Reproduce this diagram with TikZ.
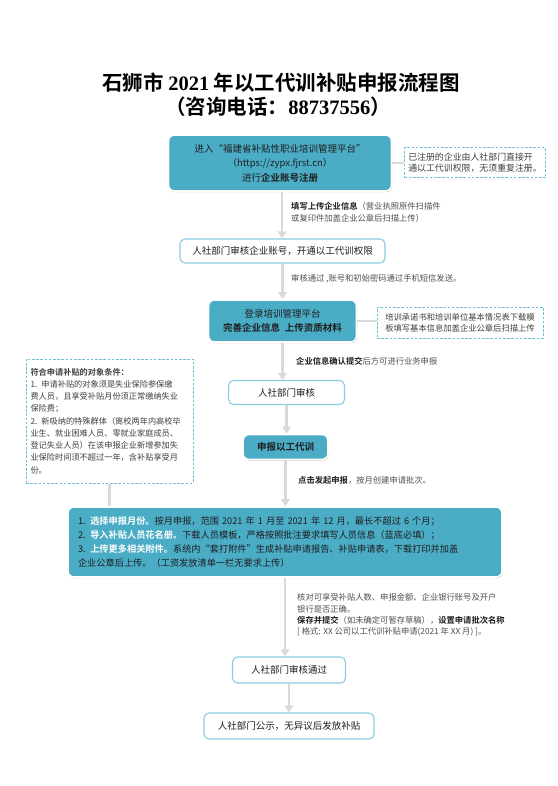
\documentclass[tikz,border=0pt]{standalone}
\usepackage{fontspec}
\setmainfont{Noto Sans CJK SC}[BoldFont={Noto Sans CJK SC Bold}]
\newfontfamily\tnr{Liberation Serif}
\usetikzlibrary{arrows.meta,shadows}
\definecolor{tealc}{HTML}{4BACC6}
\definecolor{bluel}{HTML}{8ACDE0}
\definecolor{blued}{HTML}{6CC0D6}
\definecolor{arrowgray}{HTML}{D9D9D9}
\definecolor{txt}{HTML}{1E1E1E}
\definecolor{lblc}{HTML}{505050}
\tikzset{
  tealbox/.style={rounded corners=6pt, fill=tealc, draw=white, line width=1.6pt,
    drop shadow={shadow xshift=0.7pt, shadow yshift=-1.1pt, opacity=0.45, fill=black!55},
    align=center, text=txt, inner sep=0pt, font=\fontsize{9.5}{14.5}\selectfont},
  whitebox/.style={rounded corners=5pt, fill=white, draw=bluel, line width=1.1pt,
    align=center, text=txt, inner sep=0pt, font=\fontsize{9.5}{14}\selectfont},
  notebox/.style={draw=blued, dash pattern=on 2.6pt off 1.6pt, line width=1pt, fill=white,
    align=left, text=txt!85, inner sep=0pt},
  flow/.style={draw=arrowgray, line width=2.6pt, -{Triangle[width=8.5pt,length=7pt]}},
  link/.style={draw=arrowgray, line width=2.2pt},
  lbl/.style={anchor=west, align=left, text=lblc, inner sep=0pt, font=\fontsize{8.3}{11.6}\selectfont},
  ttl/.style={font=\fontsize{20.5}{24}\selectfont\bfseries, text=black, inner sep=0pt}
}
\begin{document}
\begin{tikzpicture}[x=1pt,y=-1pt]
\useasboundingbox (0,0) rectangle (557,786);
\fill[white] (0,0) rectangle (557,786);

% title
\node[ttl] (t1) at (281,83) {石狮市 {\tnr\bfseries 2021} 年以工代训补贴申报流程图};
\node[ttl] (t2) at (278,107) {（咨询电话：{\tnr\bfseries 88737556}）};

% boxes
\node[tealbox, minimum width=223pt, minimum height=56pt] (b1) at (280,163)
  {进入“福建省补贴性职业培训管理平台”\\（https://zypx.fjrst.cn）\\进行\textbf{企业账号注册}};
\node[notebox, minimum width=141pt, minimum height=30pt, font=\fontsize{8.9}{11}\selectfont] (n1) at (475,163)
  {已注册的企业由人社部门直接开\\通以工代训权限，无须重复注册。};

\node[whitebox, minimum width=205pt, minimum height=24pt] (b2) at (282.5,251)
  {人社部门审核企业账号，开通以工代训权限};

\node[tealbox, minimum width=148pt, minimum height=42pt] (b3) at (282.5,321)
  {登录培训管理平台\\\textbf{完善企业信息\enspace 上传资质材料}};
\node[notebox, minimum width=166pt, minimum height=31pt, font=\fontsize{8.3}{11}\selectfont] (n2) at (460,322.5)
  {培训承诺书和培训单位基本情况表下载模\\板填写基本信息加盖企业公章后扫描上传};

\node[whitebox, minimum width=116pt, minimum height=24pt] (b4) at (286.5,392.5) {人社部门审核};

\node[tealbox, minimum width=85pt, minimum height=25pt] (b5) at (285.5,447) {\textbf{申报以工代训}};

\node[notebox, minimum width=167pt, minimum height=124pt, text width=158pt, inner xsep=4.5pt,
  font=\fontsize{8.2}{12.25}\selectfont] (n3) at (109.5,421)
  {\textbf{符合申请补贴的对象条件：}\\
   1. 申请补贴的对象须是失业保险参保缴\\
   费人员，且享受补贴月份须正常缴纳失业\\
   保险费；\\
   2. 新吸纳的特殊群体（离校两年内高校毕\\
   业生、就业困难人员、零就业家庭成员、\\
   登记失业人员）在该申报企业新增参加失\\
   业保险时间须不超过一年，含补贴享受月\\
   份。};

\node[tealbox, minimum width=434pt, minimum height=70pt, text width=414pt, inner xsep=10pt,
  align=left, font=\fontsize{9.2}{14}\selectfont] (b6) at (285,542)
  {1. {\color{white}\bfseries 选择申报月份。}按月申报，范围 2021 年 1 月至 2021 年 12 月，最长不超过 6 个月；\\
   2. {\color{white}\bfseries 导入补贴人员花名册。}下载人员模板，严格按照批注要求填写人员信息（蓝底必填）；\\
   3. {\color{white}\bfseries 上传更多相关附件。}系统内“套打附件”生成补贴申请报告、补贴申请表，下载打印并加盖\\
   企业公章后上传。（工资发放清单一栏无要求上传）};

\node[whitebox, minimum width=113pt, minimum height=26pt] (b7) at (289,670) {人社部门审核通过};
\node[whitebox, minimum width=170pt, minimum height=26pt] (b8) at (289,726) {人社部门公示，无异议后发放补贴};

% connectors
\draw[flow] (b1.south) ++(2,0) coordinate (c1) -- (c1 |- b2.north);
\draw[flow] (b2.south) -- (b2.south |- b3.north);
\draw[flow] (b3.south) -- (b3.south |- b4.north);
\draw[flow] (b4.south) -- (b4.south |- b5.north);
\draw[flow] (b5.south) -- (b5.south |- b6.north);
\draw[flow] (b6.south) -- (b6.south |- b7.north);
\draw[flow] (b7.south) -- (b7.south |- b8.north);
\draw[link] (b1.east) -- (b1.east -| n1.west);
\draw[link] (b3.east) -- (b3.east -| n2.west);
\draw[link] (n3.south) -- (n3.south |- b6.north);

% labels
\node[lbl] (l1) at (291,212.5) {\textbf{\color{txt}填写上传企业信息}（营业执照原件扫描件\\或复印件加盖企业公章后扫描上传）};
\node[lbl] (l2) at (291,278.5) {审核通过 ,账号和初始密码通过手机短信发送。};
\node[lbl] (l3) at (296,361) {\textbf{\color{txt}企业信息确认提交}后方可进行业务申报};
\node[lbl] (l5) at (298,480) {\textbf{\color{txt}点击发起申报}，按月创建申请批次。};
\node[lbl, font=\fontsize{8.3}{11.3}\selectfont] (l6) at (297,615)
  {核对可享受补贴人数、申报金额、企业银行账号及开户\\银行是否正确。\\\textbf{\color{txt}保存并提交}（如未确定可暂存草稿），\textbf{\color{txt}设置申请批次名称}\\{[} 格式: XX 公司以工代训补贴申请(2021 年 XX 月) {]}。};
\end{tikzpicture}
\end{document}
